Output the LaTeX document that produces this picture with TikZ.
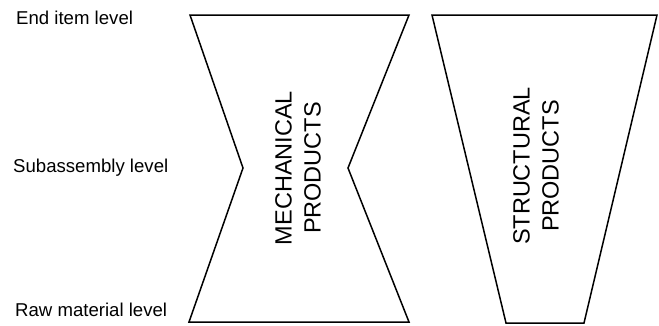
\documentclass[tikz,border=0pt]{standalone}
\usepackage{fontspec}
\setmainfont{Liberation Sans}
\usepackage{tikz}
\usetikzlibrary{positioning}
\tikzset{
  levellabel/.style={anchor=west,inner sep=0pt,font=\fontsize{18.6}{20}\selectfont},
  prodlabel/.style={rotate=90,align=center,inner sep=0pt,font=\fontsize{23.5}{29}\selectfont},
  outline/.style={draw=black,line width=1.5pt,line join=miter},
}
\begin{document}
\begin{tikzpicture}[x=1pt,y=-1pt]
  \useasboundingbox (0,0) rectangle (659,325);
  % level labels
  \node[levellabel] (enditem) at (16,18) {End item level};
  \node[levellabel] (subassy) at (13,168) {Subassembly level};
  \node[levellabel] (rawmat) at (15,310) {Raw material level};
  % mechanical: hourglass
  \draw[outline] (190,15) -- (409,15) -- (348,168) -- (409,322)
    -- (189,322) -- (243,168) -- cycle;
  \node[prodlabel] (mech) at (298,168) {MECHANICAL\\PRODUCTS};
  % structural: funnel
  \draw[outline] (432,15) -- (657,15) -- (584,323) -- (506,323) -- cycle;
  \node[prodlabel] (struct) at (536,166) {STRUCTURAL\\PRODUCTS};
\end{tikzpicture}
\end{document}
